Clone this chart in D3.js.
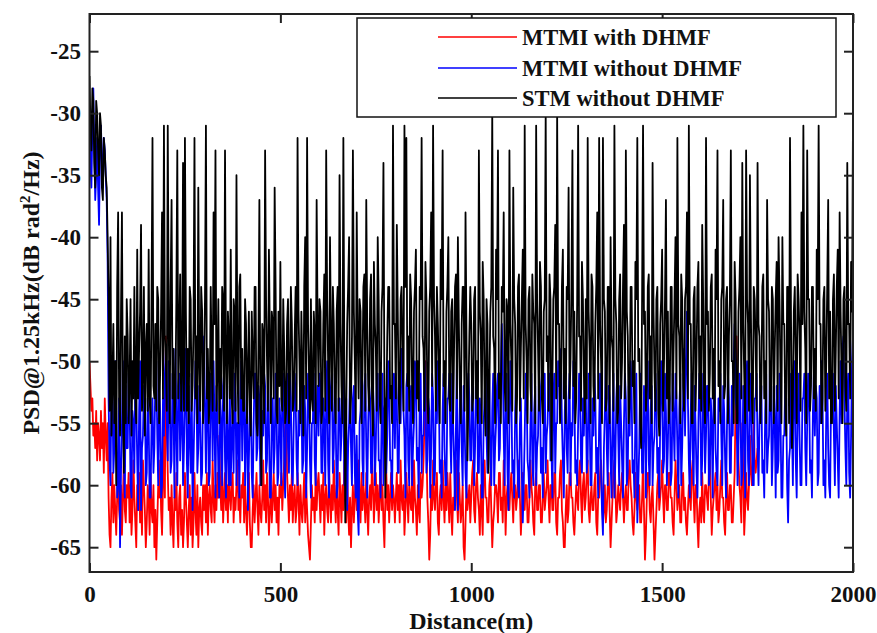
<!DOCTYPE html>
<html>
<head>
<meta charset="utf-8">
<script src="https://cdn.jsdelivr.net/npm/d3@7"></script>
<style>
  html, body { margin: 0; padding: 0; background: #fff; }
  svg text { font-family: "Liberation Serif", "Times New Roman", serif; font-weight: bold; fill: #111; }
</style>
</head>
<body>
<svg id="chart" width="877" height="633"></svg>
<script>
/* ---------------------------------------------------------
   DATA (PSD in dB, sampled every 2.5 m)
--------------------------------------------------------- */
const stepM = 2.5;
const xTicks = [0, 500, 1000, 1500, 2000];
const yTicks = [-65, -60, -55, -50, -45, -40, -35, -30, -25];
const seriesNames = ['MTMI with DHMF', 'MTMI without DHMF', 'STM without DHMF'];
const seriesColors = ['#ff0000', '#0000ff', '#000000'];

// STM without DHMF (black), 0 - 2000 m
const stmWithout = [
  -27,-31,-33,-28,-29,-34,-36,-29,-30,-33,-35,-30,-31,-36,-37,-32,-33,-35,-36,-40,-45,-54,-40,-56,-52,-47,-55,-50,-60,-44,-38,-53,-56,-46,-38,-54,-59,-48,-55,-45,
  -48,-55,-52,-45,-56,-50,-53,-44,-53,-55,-41,-53,-49,-46,-39,-54,-51,-44,-56,-49,-47,-54,-41,-53,-55,-45,-32,-52,-53,-47,-54,-44,-45,-55,-51,-46,-38,-53,-31,-48,
  -50,-54,-31,-47,-55,-44,-37,-53,-49,-55,-53,-45,-33,-53,-48,-43,-54,-51,-34,-54,-32,-46,-54,-49,-55,-44,-45,-54,-52,-47,-32,-53,-48,-55,-36,-50,-54,-44,-46,-55,
  -51,-45,-31,-53,-49,-55,-53,-44,-50,-54,-38,-47,-33,-54,-51,-45,-55,-49,-53,-44,-45,-54,-33,-50,-55,-46,-48,-53,-41,-53,-55,-45,-46,-54,-35,-50,-55,-44,-43,-53,
  -49,-54,-54,-45,-47,-55,-51,-46,-54,-56,-46,-50,-53,-44,-44,-55,-56,-49,-37,-53,-60,-47,-48,-55,-33,-45,-50,-54,-41,-48,-55,-46,-47,-53,-36,-44,-54,-55,-46,-52,
  -42,-53,-54,-45,-49,-55,-54,-47,-45,-55,-52,-44,-47,-54,-53,-48,-44,-54,-32,-46,-50,-55,-46,-51,-56,-44,-40,-53,-32,-47,-51,-55,-45,-53,-54,-46,-48,-55,-37,-47,
  -52,-45,-46,-55,-54,-47,-43,-54,-33,-45,-50,-55,-40,-48,-54,-44,-47,-53,-55,-46,-44,-54,-35,-47,-52,-55,-32,-50,-63,-54,-47,-44,-40,-55,-53,-48,-33,-46,-50,-55,
  -38,-48,-53,-45,-46,-55,-51,-44,-43,-54,-37,-47,-52,-54,-45,-43,-53,-56,-42,-47,-49,-54,-40,-45,-53,-55,-46,-44,-34,-52,-61,-54,-48,-44,-44,-53,-52,-55,-31,-47,
  -47,-53,-39,-46,-53,-55,-45,-44,-50,-54,-31,-44,-32,-52,-48,-54,-43,-45,-52,-55,-46,-44,-41,-53,-50,-54,-44,-45,-32,-48,-49,-54,-42,-45,-53,-55,-46,-44,-38,-52,
  -31,-45,-48,-54,-44,-47,-51,-55,-41,-45,-33,-52,-50,-55,-46,-44,-40,-53,-54,-46,-45,-55,-49,-44,-43,-53,-40,-47,-52,-55,-47,-44,-44,-54,-38,-48,-58,-53,-48,-44,
  -47,-54,-53,-45,-44,-53,-50,-55,-33,-46,-48,-55,-42,-45,-53,-56,-45,-47,-59,-52,-46,-44,-30,-48,-49,-55,-41,-45,-33,-53,-51,-55,-44,-46,-38,-52,-54,-45,-46,-55,
  -33,-47,-50,-54,-36,-45,-47,-55,-53,-44,-43,-54,-49,-45,-41,-53,-31,-47,-50,-55,-45,-44,-52,-54,-43,-46,-47,-55,-31,-45,-49,-54,-42,-44,-53,-55,-46,-45,-30,-50,
  -48,-54,-43,-45,-58,-52,-45,-44,-39,-53,-30,-47,-47,-55,-52,-44,-41,-53,-49,-55,-44,-45,-36,-53,-50,-44,-33,-52,-46,-55,-53,-45,-31,-48,-48,-54,-42,-45,-51,-55,
  -45,-53,-32,-46,-49,-55,-43,-44,-52,-54,-47,-44,-38,-53,-32,-47,-50,-55,-32,-45,-46,-54,-53,-44,-44,-55,-40,-48,-49,-54,-31,-45,-47,-55,-54,-45,-43,-53,-50,-44,
  -39,-53,-33,-46,-48,-55,-53,-44,-44,-52,-50,-55,-42,-45,-32,-50,-49,-55,-57,-45,-31,-47,-46,-54,-52,-44,-43,-53,-48,-55,-34,-46,-51,-54,-45,-44,-54,-56,-47,-45,
  -41,-54,-50,-45,-37,-53,-46,-55,-53,-44,-44,-54,-49,-45,-40,-53,-32,-47,-48,-55,-43,-45,-52,-54,-45,-44,-38,-53,-31,-47,-47,-55,-55,-45,-44,-54,-50,-44,-42,-53,
  -48,-54,-39,-45,-53,-55,-32,-47,-46,-54,-51,-44,-43,-53,-49,-55,-41,-45,-33,-52,-50,-55,-45,-44,-37,-53,-52,-45,-44,-55,-48,-45,-33,-50,-50,-55,-42,-45,-55,-55,
  -46,-44,-40,-53,-34,-47,-51,-55,-33,-45,-47,-54,-35,-46,-53,-55,-44,-45,-49,-54,-34,-47,-48,-55,-52,-44,-43,-53,-50,-55,-37,-45,-46,-54,-54,-44,-45,-55,-49,-45,
  -42,-54,-40,-45,-51,-55,-40,-47,-47,-54,-56,-44,-44,-55,-32,-46,-57,-53,-46,-44,-50,-55,-43,-45,-48,-54,-38,-47,-31,-46,-49,-55,-33,-45,-45,-54,-52,-44,-44,-53,
  -49,-54,-41,-45,-31,-47,-47,-55,-53,-45,-44,-54,-50,-44,-37,-53,-46,-55,-55,-45,-43,-54,-49,-44,-41,-53,-38,-46,-51,-55,-45,-44,-52,-54,-34,-47,-47,-53,-42,-46,
  -30
];

// MTMI without DHMF (blue), 0 - 2000 m
const mtmiWithout = [
  -30,-34,-36,-31,-28,-33,-37,-35,-32,-36,-39,-33,-31,-34,-36,-32,-33,-35,-37,-42,-53,-58,-60,-51,-52,-59,-57,-50,-54,-61,-60,-53,-65,-59,-55,-50,-58,-61,-52,-57,
  -57,-51,-53,-60,-61,-54,-55,-59,-51,-53,-58,-62,-54,-50,-62,-57,-56,-52,-52,-60,-59,-53,-55,-61,-61,-55,-53,-59,-57,-51,-50,-56,-60,-52,-54,-61,-60,-53,-56,-51,
  -49,-55,-58,-50,-52,-59,-58,-51,-53,-61,-49,-55,-60,-52,-51,-58,-55,-50,-60,-57,-53,-49,-58,-61,-52,-56,-59,-51,-62,-58,-54,-50,-51,-59,-57,-52,-55,-60,-59,-52,
  -48,-54,-59,-52,-53,-60,-59,-51,-52,-58,-50,-55,-61,-52,-54,-59,-61,-53,-55,-60,-52,-51,-58,-61,-53,-57,-60,-52,-60,-56,-54,-59,-51,-53,-60,-55,-55,-61,-53,-50,
  -58,-52,-52,-60,-56,-51,-62,-58,-54,-52,-59,-61,-55,-51,-51,-58,-57,-52,-53,-60,-60,-54,-56,-51,-52,-59,-58,-51,-55,-61,-61,-54,-53,-59,-57,-51,-54,-60,-59,-53,
  -55,-60,-52,-51,-58,-61,-54,-51,-57,-59,-51,-53,-59,-60,-55,-51,-53,-58,-60,-54,-56,-50,-52,-59,-58,-52,-54,-61,-57,-51,-53,-58,-61,-55,-55,-51,-58,-60,-54,-52,
  -56,-51,-52,-59,-59,-53,-55,-60,-53,-50,-58,-61,-54,-52,-51,-59,-57,-51,-55,-61,-60,-53,-53,-58,-56,-50,-52,-60,-58,-53,-62,-57,-55,-51,-57,-60,-53,-52,-59,-61,
  -56,-62,-64,-55,-54,-50,-58,-60,-52,-51,-57,-61,-55,-52,-53,-59,-59,-52,-54,-60,-57,-51,-51,-58,-58,-61,-55,-51,-60,-54,-53,-59,-56,-50,-52,-58,-58,-61,-54,-51,
  -57,-51,-53,-59,-59,-52,-55,-49,-49,-54,-56,-61,-52,-51,-58,-60,-54,-52,-60,-57,-55,-50,-51,-58,-57,-61,-53,-51,-59,-56,-56,-50,-52,-59,-58,-53,-54,-61,-57,-51,
  -53,-60,-59,-52,-55,-50,-52,-59,-58,-61,-54,-51,-57,-60,-60,-53,-53,-51,-56,-59,-51,-55,-58,-62,-55,-50,-62,-58,-54,-51,-57,-60,-52,-55,-59,-61,-55,-51,-53,-58,
  -58,-52,-54,-60,-57,-51,-52,-59,-59,-53,-55,-61,-61,-55,-53,-50,-56,-59,-52,-51,-58,-60,-54,-51,-60,-57,-55,-52,-51,-58,-57,-51,-47,-50,-56,-60,-53,-51,-59,-62,
  -55,-50,-52,-59,-58,-61,-54,-51,-57,-60,-61,-55,-53,-59,-63,-60,-56,-51,-52,-58,-59,-61,-55,-51,-58,-60,-54,-52,-60,-57,-56,-51,-52,-59,-57,-61,-54,-51,-59,-56,
  -55,-51,-51,-58,-57,-61,-53,-51,-59,-55,-55,-50,-52,-49,-50,-55,-58,-61,-54,-52,-57,-59,-53,-51,-60,-55,-56,-50,-52,-59,-58,-60,-55,-51,-53,-58,-59,-53,-56,-51,
  -52,-59,-58,-51,-54,-60,-60,-53,-56,-51,-53,-59,-57,-61,-55,-51,-59,-62,-64,-57,-54,-50,-57,-60,-52,-53,-58,-61,-55,-51,-61,-58,-53,-51,-56,-60,-52,-55,-58,-61,
  -55,-51,-53,-60,-59,-52,-56,-50,-52,-59,-58,-61,-54,-51,-63,-60,-57,-51,-53,-59,-59,-52,-55,-61,-52,-50,-58,-60,-54,-52,-60,-57,-56,-51,-53,-59,-57,-61,-55,-50,
  -52,-59,-58,-51,-54,-60,-57,-52,-53,-60,-59,-51,-55,-58,-51,-53,-57,-61,-54,-51,-60,-57,-53,-49,-56,-50,-46,-53,-58,-61,-54,-51,-57,-60,-52,-55,-59,-61,-55,-51,
  -53,-60,-58,-51,-54,-59,-56,-52,-52,-60,-59,-53,-55,-61,-53,-50,-57,-59,-60,-53,-54,-51,-56,-60,-52,-54,-58,-61,-55,-51,-53,-59,-59,-52,-56,-50,-47,-53,-54,-60,
  -57,-51,-53,-60,-59,-52,-55,-61,-52,-50,-58,-60,-54,-51,-56,-60,-60,-53,-53,-51,-57,-60,-55,-52,-52,-59,-58,-61,-54,-51,-59,-57,-56,-50,-53,-60,-57,-52,-55,-61,
  -52,-59,-58,-51,-54,-61,-61,-56,-56,-52,-53,-60,-63,-58,-57,-51,-55,-60,-52,-50,-58,-61,-54,-51,-56,-60,-60,-53,-53,-51,-57,-60,-55,-51,-52,-59,-58,-61,-54,-51,
  -56,-52,-53,-60,-59,-52,-55,-50,-52,-60,-58,-61,-54,-51,-57,-60,-61,-53,-53,-51,-56,-60,-52,-55,-58,-61,-54,-50,-55,-49,-48,-53,-57,-60,-53,-51,-59,-61,-56,-50,
  -48
];

// MTMI with DHMF (red), 0 - 1750 m
const mtmiWith = [
  -50,-52,-54,-53,-56,-55,-57,-54,-58,-55,-56,-58,-54,-57,-55,-59,-53,-56,-58,-55,-61,-64,-65,-61,-59,-63,-60,-62,-64,-61,-59,-62,-63,-60,-64,-61,-58,-62,-63,-60,
  -61,-59,-63,-60,-64,-62,-58,-61,-63,-65,-60,-62,-59,-63,-61,-64,-58,-60,-62,-65,-63,-60,-61,-64,-59,-62,-63,-60,-65,-62,-66,-63,-60,-61,-58,-62,-64,-60,-56,-61,
  -48,-55,-59,-62,-61,-64,-60,-63,-65,-61,-62,-59,-63,-65,-61,-60,-64,-62,-65,-63,-59,-61,-63,-65,-62,-60,-64,-61,-65,-63,-59,-62,-64,-60,-65,-62,-61,-63,-64,-60,
  -62,-60,-63,-59,-64,-61,-60,-62,-63,-58,-61,-63,-60,-62,-59,-61,-56,-60,-62,-59,-63,-61,-59,-62,-60,-63,-58,-61,-62,-60,-59,-63,-61,-62,-60,-58,-62,-61,-63,-60,
  -61,-59,-63,-60,-62,-64,-61,-59,-63,-65,-65,-62,-60,-63,-61,-59,-62,-64,-60,-62,-63,-61,-58,-62,-60,-63,-59,-61,-64,-62,-60,-63,-61,-59,-62,-60,-63,-61,-64,-60,
  -61,-59,-62,-60,-58,-55,-54,-59,-61,-63,-60,-62,-59,-63,-61,-60,-63,-62,-59,-61,-64,-60,-62,-63,-61,-59,-63,-60,-62,-64,-65,-66,-63,-60,-62,-61,-63,-59,-62,-60,
  -59,-61,-63,-60,-62,-59,-64,-61,-60,-62,-63,-59,-61,-63,-60,-62,-58,-61,-63,-60,-62,-64,-59,-61,-63,-60,-62,-58,-61,-63,-59,-62,-64,-61,-65,-62,-60,-63,-61,-59,
  -62,-60,-58,-61,-63,-59,-62,-60,-61,-63,-59,-62,-64,-61,-60,-62,-58,-60,-63,-61,-59,-62,-60,-63,-61,-58,-62,-60,-63,-65,-61,-59,-62,-60,-63,-61,-59,-62,-60,-61,
  -63,-61,-59,-62,-60,-63,-58,-61,-62,-60,-64,-62,-59,-61,-63,-60,-61,-62,-59,-63,-58,-61,-62,-64,-60,-62,-63,-59,-61,-60,-58,-55,-50,-56,-61,-63,-66,-64,-60,-62,
  -58,-61,-62,-60,-59,-63,-64,-61,-60,-62,-58,-61,-63,-60,-62,-59,-61,-63,-59,-62,-64,-61,-62,-60,-58,-61,-63,-59,-61,-63,-62,-60,-65,-66,-63,-60,-62,-61,-60,-63,
  -61,-59,-58,-62,-63,-60,-59,-61,-62,-64,-60,-62,-64,-59,-58,-61,-61,-63,-63,-60,-59,-62,-65,-63,-62,-60,-60,-61,-63,-59,-59,-62,-61,-63,-58,-60,-64,-61,-60,-62,
  -62,-60,-59,-61,-63,-60,-60,-62,-61,-59,-58,-61,-64,-62,-59,-61,-62,-60,-60,-63,-63,-61,-58,-60,-61,-63,-64,-60,-59,-62,-62,-60,-60,-63,-63,-61,-59,-62,-61,-60,
  -58,-61,-63,-60,-60,-62,-62,-59,-59,-63,-64,-61,-61,-59,-58,-62,-63,-65,-65,-62,-60,-63,-62,-59,-59,-61,-61,-63,-64,-62,-60,-61,-62,-59,-58,-61,-63,-60,-59,-62,
  -61,-59,-58,-62,-63,-61,-60,-62,-62,-60,-59,-63,-64,-61,-61,-59,-58,-61,-63,-62,-60,-63,-62,-60,-59,-62,-65,-63,-61,-59,-58,-60,-63,-62,-60,-61,-62,-60,-59,-61,
  -63,-61,-60,-62,-62,-59,-58,-60,-61,-63,-64,-62,-59,-61,-62,-60,-60,-63,-63,-61,-58,-62,-66,-64,-61,-59,-59,-62,-63,-61,-60,-63,-66,-64,-62,-60,-59,-62,-61,-60,
  -58,-61,-63,-60,-60,-62,-62,-59,-59,-61,-61,-63,-64,-61,-58,-60,-62,-61,-60,-63,-63,-60,-59,-62,-61,-63,-64,-62,-60,-61,-62,-59,-58,-61,-63,-60,-60,-63,-65,-62,
  -61,-63,-59,-62,-63,-60,-60,-61,-62,-59,-58,-61,-64,-62,-61,-60,-59,-62,-60,-63,-62,-60,-58,-61,-61,-63,-64,-61,-59,-62,-62,-60,-60,-63,-63,-61,-59,-53,-48,-55,
  -58,-60,-61,-63,-55,-59,-64,-62,-59,-61,-62,-60,-56,-59,-60,-58,-55,-58,-59,-58,-57
];

/* ---------------------------------------------------------
   LAYOUT
--------------------------------------------------------- */
const width = 877;
const height = 633;
const plot = { left: 89.5, right: 853, top: 14, bottom: 572 };
const fontFamily = '"Liberation Serif", "Times New Roman", serif';

const svg = d3.select('#chart');

const xScale = d3.scaleLinear().domain([0, 2000]).range([plot.left, plot.right]);
const yScale = d3.scaleLinear().domain([-67, -22]).range([plot.bottom, plot.top]);

svg.append('defs').append('clipPath').attr('id', 'clip')
  .append('rect')
  .attr('x', plot.left).attr('y', plot.top)
  .attr('width', plot.right - plot.left)
  .attr('height', plot.bottom - plot.top);

/* ---------------------------------------------------------
   LINES (red, blue, black drawn in that order)
--------------------------------------------------------- */
const allSeries = [mtmiWith, mtmiWithout, stmWithout];

const line = d3.line()
  .x((d, i) => xScale(i * stepM))
  .y((d) => yScale(d));

svg.append('g')
  .attr('clip-path', 'url(#clip)')
  .selectAll('path')
  .data(allSeries)
  .join('path')
  .attr('d', line)
  .attr('fill', 'none')
  .attr('stroke', (d, i) => seriesColors[i])
  .attr('stroke-width', 1.8)
  .attr('stroke-linejoin', 'round');

/* ---------------------------------------------------------
   AXES (box with inward ticks on all sides)
--------------------------------------------------------- */
const tickLen = 9;
const axisColor = '#222';
const fmt = (d) => String(d);

svg.append('g')
  .attr('transform', `translate(0, ${plot.bottom})`)
  .call(d3.axisBottom(xScale).tickValues(xTicks).tickFormat(fmt).tickSizeInner(-tickLen).tickSizeOuter(0).tickPadding(14))
  .call((g) => g.select('.domain').remove());

svg.append('g')
  .attr('transform', `translate(0, ${plot.top})`)
  .call(d3.axisTop(xScale).tickValues(xTicks).tickSizeInner(-tickLen).tickSizeOuter(0).tickFormat(''))
  .call((g) => g.select('.domain').remove());

svg.append('g')
  .attr('transform', `translate(${plot.left}, 0)`)
  .call(d3.axisLeft(yScale).tickValues(yTicks).tickFormat(fmt).tickSizeInner(-tickLen).tickSizeOuter(0).tickPadding(8.5))
  .call((g) => g.select('.domain').remove());

svg.append('g')
  .attr('transform', `translate(${plot.right}, 0)`)
  .call(d3.axisRight(yScale).tickValues(yTicks).tickSizeInner(-tickLen).tickSizeOuter(0).tickFormat(''))
  .call((g) => g.select('.domain').remove());

svg.selectAll('.tick line').attr('stroke', axisColor).attr('stroke-width', 2);
svg.selectAll('.tick text')
  .style('font-size', '23px')
  .style('font-family', fontFamily)
  .style('font-weight', 'bold')
  .style('fill', '#111');

svg.append('rect')
  .attr('x', plot.left).attr('y', plot.top)
  .attr('width', plot.right - plot.left)
  .attr('height', plot.bottom - plot.top)
  .attr('fill', 'none')
  .attr('stroke', axisColor)
  .attr('stroke-width', 2);

/* ---------------------------------------------------------
   AXIS LABELS
--------------------------------------------------------- */
svg.append('text')
  .attr('x', (plot.left + plot.right) / 2)
  .attr('y', 629)
  .attr('text-anchor', 'middle')
  .style('font-size', '24px')
  .text('Distance(m)');

const yLabel = svg.append('text')
  .attr('transform', `translate(39, ${(plot.top + plot.bottom) / 2}) rotate(-90)`)
  .attr('text-anchor', 'middle')
  .style('font-size', '24px');
yLabel.append('tspan').text('PSD@1.25kHz(dB rad');
yLabel.append('tspan').attr('dy', -9).style('font-size', '15px').text('2');
yLabel.append('tspan').attr('dy', 9).text('/Hz)');

/* ---------------------------------------------------------
   LEGEND
--------------------------------------------------------- */
const legend = svg.append('g');
legend.append('rect')
  .attr('x', 357).attr('y', 18)
  .attr('width', 479).attr('height', 99)
  .attr('fill', '#fff')
  .attr('stroke', '#111')
  .attr('stroke-width', 1.5);

const rowY = [37, 68, 98];
const rows = legend.selectAll('g.row')
  .data(seriesNames)
  .join('g')
  .attr('class', 'row')
  .attr('transform', (d, i) => `translate(0, ${rowY[i]})`);

rows.append('line')
  .attr('x1', 438).attr('x2', 517)
  .attr('stroke', (d, i) => seriesColors[i])
  .attr('stroke-width', 1.5);

rows.append('text')
  .attr('x', 522)
  .attr('dy', '0.35em')
  .style('font-size', '22.5px')
  .text((d) => d);
</script>
</body>
</html>
